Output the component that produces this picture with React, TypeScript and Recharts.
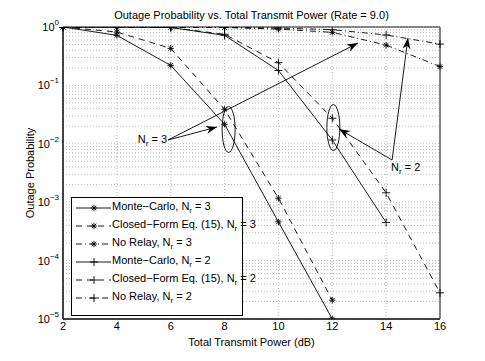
import React from 'react';
import {
  LineChart,
  Line,
  XAxis,
  YAxis,
  ReferenceLine,
  ReferenceArea,
  ReferenceDot,
} from 'recharts';

const power = [2, 4, 6, 8, 10, 12, 14, 16];
const mcNr3 = [1, 0.72, 0.22, 0.0216, 4.6e-4, 1.0e-5, null, null];
const cfNr3 = [1, 0.82, 0.43, 0.039, 1.17e-3, 2.1e-5, null, null];
const noRelayNr3 = [1, 0.99, 0.98, 0.98, 0.92, 0.81, 0.49, 0.21];
const mcNr2 = [1, 1, 0.98, 0.72, 0.18, 0.0116, 4.5e-4, null];
const cfNr2 = [1, 1, 0.98, 0.75, 0.245, 0.0274, 1.45e-3, 2.8e-5];
const noRelayNr2 = [1, 1, 0.99, 0.985, 0.96, 0.9, 0.73, 0.51];

const xTicks = [2, 4, 6, 8, 10, 12, 14, 16];
const yTicks = [1e-5, 1e-4, 1e-3, 1e-2, 1e-1, 1];
const yExp = ['−5', '−4', '−3', '−2', '−1', '0'];

const minorY: number[] = [];
for (let d = -5; d < 0; d++) {
  for (let k = 2; k <= 9; k++) minorY.push(k * Math.pow(10, d));
}

const data = power.map((p, i) => ({
  p,
  mc3: mcNr3[i],
  cf3: cfNr3[i],
  nr3: noRelayNr3[i],
  mc2: mcNr2[i],
  cf2: cfNr2[i],
  nr2: noRelayNr2[i],
}));

const series = [
  { key: 'mc3', name: 'Monte−Carlo', nr: 3, dash: undefined, mark: 'star' },
  { key: 'cf3', name: 'Closed−Form Eq. (15)', nr: 3, dash: '6 5', mark: 'star' },
  { key: 'nr3', name: 'No Relay', nr: 3, dash: '6 3 1 3', mark: 'star' },
  { key: 'mc2', name: 'Monte−Carlo', nr: 2, dash: undefined, mark: 'plus' },
  { key: 'cf2', name: 'Closed−Form Eq. (15)', nr: 2, dash: '6 5', mark: 'plus' },
  { key: 'nr2', name: 'No Relay', nr: 2, dash: '6 3 1 3', mark: 'plus' },
];

// annotation anchors, in data units
const arrows = [
  { from: { x: 5.9, y: 0.0116 }, to: { x: 7.72, y: 0.0194 } },
  { from: { x: 5.9, y: 0.0116 }, to: { x: 12.95, y: 0.53 } },
  { from: { x: 14.22, y: 0.00528 }, to: { x: 12.25, y: 0.0179 } },
  { from: { x: 14.22, y: 0.00528 }, to: { x: 14.81, y: 0.648 } },
];
const ellipses = [
  { x: 8.15, y: 0.0176 },
  { x: 12.04, y: 0.019 },
];

const Marker = (type: string, cx: number, cy: number, key?: any) => {
  const r = type === 'star' ? 3.2 : 4;
  const s = { stroke: '#000', strokeWidth: 0.9 };
  if (type === 'plus') {
    return (
      <g key={key}>
        <line x1={cx - r} y1={cy} x2={cx + r} y2={cy} {...s} />
        <line x1={cx} y1={cy - r} x2={cx} y2={cy + r} {...s} />
      </g>
    );
  }
  const d = r * 0.707;
  return (
    <g key={key}>
      <line x1={cx - r} y1={cy} x2={cx + r} y2={cy} {...s} />
      <line x1={cx} y1={cy - r} x2={cx} y2={cy + r} {...s} />
      <line x1={cx - d} y1={cy - d} x2={cx + d} y2={cy + d} {...s} />
      <line x1={cx - d} y1={cy + d} x2={cx + d} y2={cy - d} {...s} />
    </g>
  );
};

const dotFor = (type: string) => (props: any) => {
  const { cx, cy, index, value } = props;
  if (cx == null || cy == null || value == null) return <g key={index} />;
  return Marker(type, cx, cy, index);
};

const YTick = (props: any) => {
  const { x, y, payload, index } = props;
  const i = yTicks.indexOf(payload.value);
  return (
    <text x={x + 4} y={y + 4} fontSize={11} fill="#000" textAnchor="end" key={index}>
      <tspan>10</tspan>
      <tspan dy={-6} fontSize={8}>{yExp[i >= 0 ? i : 0]}</tspan>
    </text>
  );
};

const arrowShape = (props: any) => {
  const { x1, y1, x2, y2 } = props;
  if (x1 == null) return <g />;
  const ang = Math.atan2(y2 - y1, x2 - x1);
  const L = 11;
  const W = 4;
  const bx = x2 - L * Math.cos(ang);
  const by = y2 - L * Math.sin(ang);
  const px = -Math.sin(ang) * W;
  const py = Math.cos(ang) * W;
  const mx = x2 - L * 0.7 * Math.cos(ang);
  const my = y2 - L * 0.7 * Math.sin(ang);
  return (
    <g>
      <line x1={x1} y1={y1} x2={x2} y2={y2} stroke="#000" strokeWidth={0.9} />
      <path
        d={`M${x2},${y2} L${bx + px},${by + py} L${mx},${my} L${bx - px},${by - py} Z`}
        fill="#000"
      />
    </g>
  );
};

const LegendBox = () => (
  <div
    style={{
      position: 'absolute',
      left: 71,
      top: 197,
      width: 170,
      height: 116,
      border: '1px solid #000',
      background: '#fff',
      fontFamily: 'Liberation Sans, Arial, sans-serif',
      fontSize: 11,
      paddingTop: 1,
    }}
  >
    {series.map((s) => (
      <div key={s.key} style={{ position: 'relative', height: 18 }}>
        <svg width={40} height={18} style={{ position: 'absolute', left: 2, top: 0 }}>
          <line x1={2} y1={9} x2={37} y2={9} stroke="#000" strokeWidth={0.9} strokeDasharray={s.dash} />
          {Marker(s.mark, 20, 9)}
        </svg>
        <span style={{ position: 'absolute', left: 40, top: 1, whiteSpace: 'nowrap', lineHeight: '13px' }}>
          {s.name}, N<sub style={{ fontSize: 8, verticalAlign: -3, lineHeight: 0 }}>r</sub> = {s.nr}
        </span>
      </div>
    ))}
  </div>
);

export default function App() {
  return (
    <div
      style={{
        position: 'absolute',
        left: 0,
        top: 0,
        width: 485,
        height: 361,
        background: '#fff',
        fontFamily: 'Liberation Sans, Arial, sans-serif',
      }}
    >
      <div
        style={{
          position: 'absolute',
          left: 63,
          width: 377,
          top: 9,
          textAlign: 'center',
          fontSize: 11,
          whiteSpace: 'nowrap',
        }}
      >
        Outage Probability vs. Total Transmit Power (Rate = 9.0)
      </div>
      <LineChart
        width={485}
        height={361}
        data={data}
        margin={{ top: 27, right: 45, bottom: 0, left: 0 }}
        style={{ fontFamily: 'Liberation Sans, Arial, sans-serif' }}
      >
        {xTicks.map((t) => (
          <ReferenceLine key={'vx' + t} x={t} stroke="#aaa" strokeDasharray="1 2" strokeWidth={0.8} />
        ))}
        {minorY.concat(yTicks).map((t) => (
          <ReferenceLine key={'hy' + t} y={t} stroke="#aaa" strokeDasharray="1 2" strokeWidth={0.8} />
        ))}
        <XAxis
          dataKey="p"
          type="number"
          domain={[2, 16]}
          ticks={xTicks}
          interval={0}
          height={42}
          tickLine={false}
          tickSize={2}
          axisLine={{ stroke: '#000' }}
          tick={{ fontSize: 11, fill: '#000' }}
          tickMargin={1}
          label={{ value: 'Total Transmit Power (dB)', position: 'insideBottom', offset: 15, fontSize: 11, fill: '#000' }}
        />
        <YAxis
          type="number"
          scale="log"
          domain={[1e-5, 1]}
          ticks={yTicks}
          interval={0}
          allowDataOverflow
          width={63}
          tickLine={false}
          axisLine={{ stroke: '#000' }}
          tick={YTick}
          label={{ value: 'Outage Probability', angle: -90, position: 'insideLeft', offset: 30, fontSize: 11, fill: '#000', style: { textAnchor: 'middle' } }}
        />
        <ReferenceArea x1={2} x2={16} y1={1e-5} y2={1} fill="none" fillOpacity={0} stroke="#000" strokeWidth={1} ifOverflow="visible" />
        {series.map((s) => (
          <Line
            key={s.key}
            dataKey={s.key}
            stroke="#000"
            strokeWidth={0.9}
            strokeDasharray={s.dash}
            dot={dotFor(s.mark)}
            activeDot={false}
            isAnimationActive={false}
            connectNulls={false}
          />
        ))}
        {ellipses.map((e, i) => (
          <ReferenceDot
            key={'el' + i}
            x={e.x}
            y={e.y}
            ifOverflow="visible"
            shape={(p: any) => (
              <ellipse cx={p.cx} cy={p.cy} rx={6.5} ry={23} fill="none" stroke="#000" strokeWidth={0.9} />
            )}
          />
        ))}
        {arrows.map((a, i) => (
          <ReferenceLine key={'ar' + i} segment={[a.from, a.to]} ifOverflow="visible" shape={arrowShape} />
        ))}
        <ReferenceDot
          x={5.9}
          y={0.0116}
          ifOverflow="visible"
          shape={(p: any) => (
            <text x={p.cx - 1} y={p.cy + 3} textAnchor="end" fontSize={11} fill="#000">
              N<tspan dy={3} fontSize={8}>r</tspan>
              <tspan dy={-3}> = 3</tspan>
            </text>
          )}
        />
        <ReferenceDot
          x={14.22}
          y={0.00528}
          ifOverflow="visible"
          shape={(p: any) => (
            <text x={p.cx - 1} y={p.cy + 11} textAnchor="start" fontSize={11} fill="#000">
              N<tspan dy={3} fontSize={8}>r</tspan>
              <tspan dy={-3}> = 2</tspan>
            </text>
          )}
        />
      </LineChart>
      <LegendBox />
    </div>
  );
}
